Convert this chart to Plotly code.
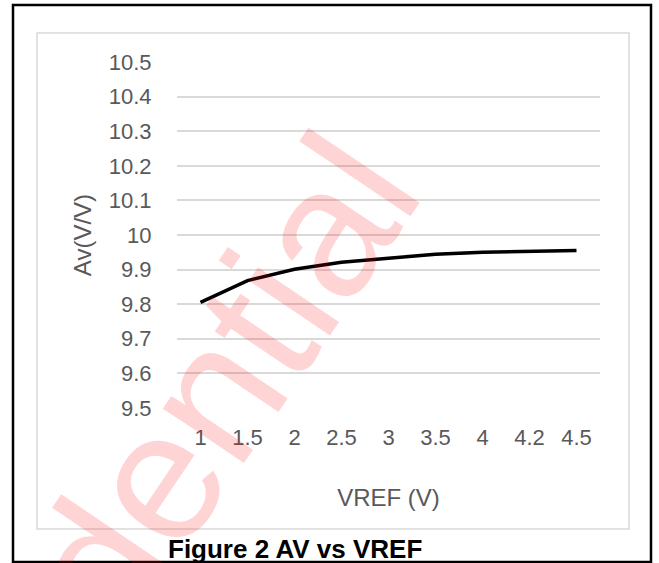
import plotly.graph_objects as go

# Gain vs reference voltage
vref_labels = ["1", "1.5", "2", "2.5", "3", "3.5", "4", "4.2", "4.5"]
av_values = [9.805, 9.868, 9.901, 9.921, 9.933, 9.944, 9.950, 9.952, 9.955]

y_tick_vals = [9.5, 9.6, 9.7, 9.8, 9.9, 10.0, 10.1, 10.2, 10.3, 10.4, 10.5]
y_tick_text = ["9.5", "9.6", "9.7", "9.8", "9.9", "10", "10.1", "10.2", "10.3", "10.4", "10.5"]

W, H = 659, 563
L, R, T, B = 177, 600, 62, 408  # plot area in pixels
FONT = "Liberation Sans, Arial, sans-serif"
GRAY = "#595959"


def px(x):
    return (x - L) / (R - L)


def py(y):
    return (B - y) / (B - T)


fig = go.Figure()
fig.add_trace(go.Scatter(
    x=vref_labels, y=av_values, mode="lines",
    line=dict(color="black", width=3.5),
    hoverinfo="skip", showlegend=False,
))

fig.update_layout(
    width=W, height=H,
    margin=dict(l=L, r=W - R, t=T, b=H - B, pad=0),
    paper_bgcolor="white", plot_bgcolor="white",
    font=dict(family=FONT, color=GRAY),
    xaxis=dict(
        type="category", range=[-0.5, 8.5],
        showgrid=False, showline=False, zeroline=False,
        ticks="outside", ticklen=10, tickcolor="rgba(0,0,0,0)",
        tickfont=dict(size=22, color=GRAY),
        title=dict(text="VREF (V)", font=dict(size=24, color=GRAY), standoff=39),
    ),
    yaxis=dict(
        range=[9.4995, 10.5005],
        tickvals=y_tick_vals, ticktext=y_tick_text,
        showgrid=True, gridcolor="#D9D9D9", gridwidth=1.5,
        showline=False, zeroline=False,
        ticks="outside", ticklen=20, tickcolor="rgba(0,0,0,0)",
        tickfont=dict(size=22, color=GRAY),
        title=dict(text="Av(V/V)", font=dict(size=24, color=GRAY), standoff=10),
    ),
    shapes=[
        # outer frame
        dict(type="rect", xref="paper", yref="paper",
             x0=px(13), x1=px(651), y0=py(5), y1=py(562),
             line=dict(color="black", width=2.5), layer="above"),
        # chart area frame
        dict(type="rect", xref="paper", yref="paper",
             x0=px(37), x1=px(629), y0=py(33), y1=py(529),
             line=dict(color="#D9D9D9", width=1.5), layer="below"),
    ],
    annotations=[
        dict(text="<b>Figure 2 AV vs VREF</b>", xref="paper", yref="paper",
             x=px(295), y=py(549), xanchor="center", yanchor="middle",
             showarrow=False,
             font=dict(size=26, color="black", family=FONT)),
        dict(text="Confidential", xref="paper", yref="paper",
             x=px(100), y=py(562), xanchor="center", yanchor="middle",
             showarrow=False, textangle=-56,
             font=dict(size=185, color="rgba(255,0,0,0.17)", family=FONT)),
    ],
)

fig.write_html("out.html")
